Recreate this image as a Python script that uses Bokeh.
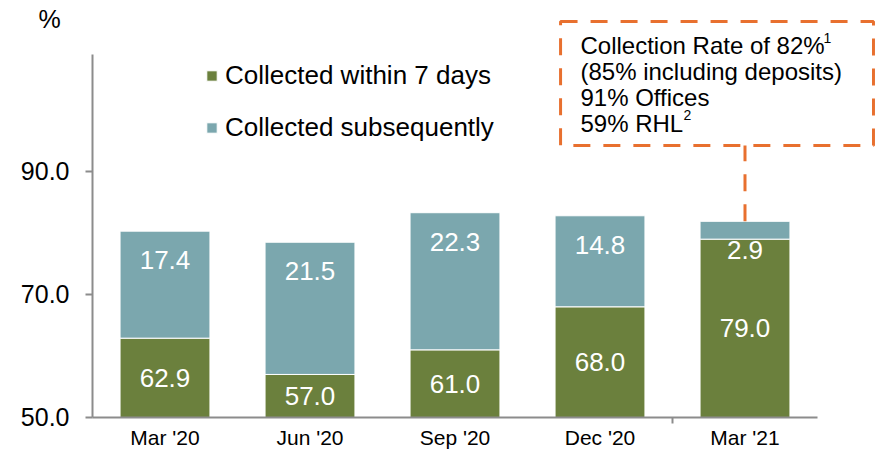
from bokeh.plotting import figure
from bokeh.models import ColumnDataSource, FixedTicker, NumeralTickFormatter, BoxAnnotation, Label
from bokeh.core.properties import value
from bokeh.embed import file_html
from bokeh.resources import INLINE

# ---- data ----
categories = ["Mar '20", "Jun '20", "Sep '20", "Dec '20", "Mar '21"]
within_7_days = [62.9, 57.0, 61.0, 68.0, 79.0]
subsequently = [17.4, 21.5, 22.3, 14.8, 2.9]
y_ticks = [50, 70, 90]
series_names = ["Collected within 7 days", "Collected subsequently"]
note_lines = ["Collection Rate of 82%", "(85% including deposits)", "91% Offices", "59% RHL"]
note_sups = ["1", "2"]
unit_label = "%"

# ---- style ----
GREEN = "#6B803D"
TEAL = "#7BA7AE"
ORANGE = "#E8702F"
GREY = "#8C8C8C"
FONT = "Liberation Sans"
Y0 = 50
PX_PER_UNIT = 6.15

x = [i + 0.5 for i in range(len(categories))]
total = [a + b for a, b in zip(within_7_days, subsequently)]
src = ColumnDataSource(dict(
    x=x, base=[Y0] * len(x), within=within_7_days, subseq=subsequently, total=total,
    mid=[(Y0 + a) / 2 for a in within_7_days],
    within_lbl=[f"{v:.1f}" for v in within_7_days],
    subseq_lbl=[f"{v:.1f}" for v in subsequently],
))

p = figure(width=877, height=453, x_range=(-0.6345, 5.4138), y_range=(44.146, 117.805),
           output_backend="svg", toolbar_location=None,
           min_border_left=0, min_border_right=0, min_border_top=0, min_border_bottom=0)
p.outline_line_color = None
p.xgrid.visible = False
p.ygrid.visible = False
p.background_fill_color = "white"

p.vbar(x="x", bottom="base", top="within", width=0.62, color=GREEN, line_color="white",
       line_width=1, source=src, legend_label=series_names[0])
p.vbar(x="x", bottom="within", top="total", width=0.62, color=TEAL, line_color="white",
       line_width=1, source=src, legend_label=series_names[1])

txt = dict(text_color="white", text_font=value(FONT), text_font_size="26px",
           text_align="center", text_baseline="middle", source=src)
p.text(x="x", y="mid", text="within_lbl", **txt)
p.text(x="x", y="total", text="subseq_lbl", y_offset=29, **txt)

# axes (placed at fixed data locations inside the frame)
xa = p.xaxis[0]
xa.fixed_location = Y0
xa.ticker = FixedTicker(ticks=x, minor_ticks=[4])
xa.major_label_overrides = {xi: c for xi, c in zip(x, categories)}
xa.bounds = (0, 5)
xa.axis_line_color = GREY
xa.axis_line_width = 2
xa.major_tick_out = 0
xa.major_tick_in = 0
xa.minor_tick_out = 6
xa.minor_tick_in = 0
xa.minor_tick_line_color = GREY
xa.minor_tick_line_width = 2
xa.major_label_text_font = FONT
xa.major_label_text_font_size = "21px"
xa.major_label_text_color = "black"
xa.major_label_standoff = 3

ya = p.yaxis[0]
ya.fixed_location = 0
ya.ticker = FixedTicker(ticks=y_ticks, minor_ticks=[])
ya.formatter = NumeralTickFormatter(format="0.0")
ya.bounds = (50, 109)
ya.axis_line_color = GREY
ya.axis_line_width = 2
ya.major_tick_out = 7
ya.major_tick_in = 0
ya.major_tick_line_color = GREY
ya.major_tick_line_width = 2
ya.major_label_text_font = FONT
ya.major_label_text_font_size = "25px"
ya.major_label_text_color = "black"
ya.major_label_standoff = 16

# legend
lg = p.legend[0]
lg.location = (205, 310)
lg.border_line_color = None
lg.background_fill_alpha = 0
lg.padding = 0
lg.margin = 0
lg.glyph_width = 13
lg.glyph_height = 13
lg.label_standoff = 7
lg.spacing = 21
lg.label_text_font = FONT
lg.label_text_font_size = "26px"
lg.label_text_color = "black"

# unit label
p.add_layout(Label(x=-0.372, y=117.0, text=unit_label, text_font=FONT, text_font_size="25px",
                   text_baseline="top", text_color="black"))

# annotation box
BOX_L, BOX_R, BOX_B, BOX_T = 3.228, 5.386, 94.23, 114.39
p.add_layout(BoxAnnotation(left=BOX_L, right=BOX_R, bottom=BOX_B, top=BOX_T,
                           fill_color=None, fill_alpha=0, line_color=ORANGE,
                           line_alpha=1, line_width=3, line_dash="17 13"))
p.segment(x0=[x[-1]], y0=[total[-1]], x1=[x[-1]], y1=[BOX_B],
          line_color=ORANGE, line_width=3, line_dash="17 13")

NOTE_X = 3.3655
NOTE_TOP = 112.76
LINE_PITCH = 26 / PX_PER_UNIT
for i, line in enumerate(note_lines):
    p.add_layout(Label(x=NOTE_X, y=NOTE_TOP - i * LINE_PITCH, text=line,
                       text_font=FONT, text_font_size="24px", text_baseline="top",
                       text_color="black"))
sup_pos = [(5.041, 112.6), (4.076, 100.08)]
for s, (sx, sy) in zip(note_sups, sup_pos):
    p.add_layout(Label(x=sx, y=sy, text=s, text_font=FONT, text_font_size="14px",
                       text_baseline="top", text_color="black"))

open("out.html", "w").write(file_html(p, INLINE))
